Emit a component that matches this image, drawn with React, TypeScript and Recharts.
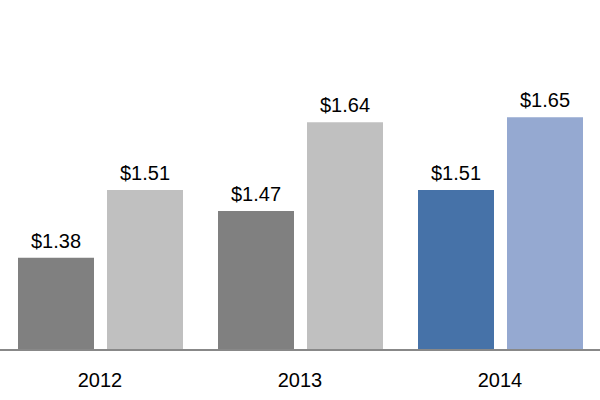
import { Bar, BarChart, Cell, LabelList, XAxis, YAxis } from "recharts";

const years = ["2012", "2013", "2014"];
const firstValues = [1.38, 1.47, 1.51];
const secondValues = [1.51, 1.64, 1.65];
const firstColors = ["#808080", "#808080", "#4672a8"];
const secondColors = ["#c0c0c0", "#c0c0c0", "#95a9d1"];

const data = years.map((year, i) => ({
  year,
  first: firstValues[i],
  second: secondValues[i],
}));

const fmt = (v: number) => `$${v.toFixed(2)}`;
const labelStyle = { fontSize: 20, fill: "#000", fontFamily: "Liberation Sans, Arial, sans-serif" };

export default function App() {
  return (
    <div style={{ position: "absolute", top: 0, left: 0, background: "#fff" }}>
      <BarChart
        width={600}
        height={400}
        data={data}
        margin={{ top: 39, right: 0, left: 0, bottom: 0 }}
        barGap={13}
      >
        <XAxis
          dataKey="year"
          height={50}
          axisLine={{ stroke: "#888", strokeWidth: 2 }}
          tickLine={false}
          tickMargin={17}
          tick={labelStyle}
        />
        <YAxis hide domain={[1.203, 1.8]} allowDataOverflow />
        <Bar dataKey="first" barSize={76} isAnimationActive={false}>
          {data.map((d, i) => (
            <Cell key={d.year} fill={firstColors[i]} />
          ))}
          <LabelList dataKey="first" position="top" offset={10} formatter={fmt} style={labelStyle} />
        </Bar>
        <Bar dataKey="second" barSize={76} isAnimationActive={false}>
          {data.map((d, i) => (
            <Cell key={d.year} fill={secondColors[i]} />
          ))}
          <LabelList dataKey="second" position="top" offset={10} formatter={fmt} style={labelStyle} />
        </Bar>
      </BarChart>
    </div>
  );
}
